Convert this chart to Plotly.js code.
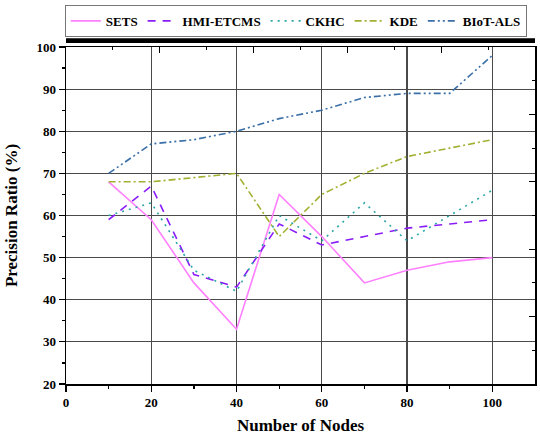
<!DOCTYPE html>
<html><head><meta charset="utf-8">
<script src="https://cdn.plot.ly/plotly-3.0.1.min.js"></script>
<style>html,body{margin:0;padding:0;background:#fff;}#chart{width:540px;height:437px;}</style>
</head><body><div id="chart"></div>
<script>
const nodes = [10, 20, 30, 40, 50, 60, 70, 80, 90, 100];
const sets = [68, 59, 44, 33, 65, 55, 44, 47, 49, 50];
const hmi = [59, 67, 46, 43, 58, 53, 55, 57, 58, 59];
const ckhc = [60, 63, 47, 42, 60, 54, 63, 54, 60, 66];
const kde = [68, 68, 69, 70, 55, 65, 70, 74, 76, 78];
const biot = [70, 77, 78, 80, 83, 85, 88, 89, 89, 98];
const names = ["SETS", "HMI-ETCMS", "CKHC", "KDE", "BIoT-ALS"];

const serif = "Liberation Serif";
const mk = (y, name, color, dash) => ({
  x: nodes, y: y, name: name, type: "scatter", mode: "lines",
  line: {color: color, width: 1.6, dash: dash}
});
const data = [
  mk(sets, names[0], "#ff80ff", "solid"),
  mk(hmi, names[1], "#8a1cf7", "8px,7px"),
  mk(ckhc, names[2], "#2aa5a5", "2px,5px"),
  mk(kde, names[3], "#a2b032", "7px,3px,2px,3px"),
  mk(biot, names[4], "#3a6fa8", "7px,3px,2px,3px,2px,3px")
];
data.push({x: [0], y: [0], xaxis: "x2", yaxis: "y2", mode: "markers", marker: {opacity: 0}, showlegend: false, hoverinfo: "skip"});

const layout = {
  width: 540, height: 437,
  margin: {l: 66, r: 5, t: 38, b: 53},
  paper_bgcolor: "#fff", plot_bgcolor: "#fff",
  font: {color: "#000"},
  showlegend: true,
  legend: {
    orientation: "h", x: 0.49, xanchor: "center", y: 1.03, yanchor: "bottom",
    bgcolor: "#fff", bordercolor: "#777", borderwidth: 1,
    font: {family: serif, size: 13, color: "#000", weight: "bold"},
    tracegroupgap: 0
  },
  xaxis: {
    range: [0, 110], tickvals: [0, 20, 40, 60, 80, 100],
    ticks: "outside", ticklen: 6, tickwidth: 1.2, tickcolor: "#000",
    minor: {tickvals: [10, 30, 50, 70, 90], ticks: "outside", ticklen: 3, tickcolor: "#000", showgrid: false},
    showline: true, linecolor: "#000", linewidth: 1.5, mirror: true,
    showgrid: true, gridcolor: "#4a4a4a", gridwidth: 1.2,
    zeroline: false,
    tickfont: {family: serif, size: 13, color: "#000", weight: "bold"},
    title: {text: "Number of Nodes", font: {family: serif, size: 17, color: "#000", weight: "bold"}, standoff: 10}
  },
  yaxis: {
    range: [20, 100], dtick: 10, tick0: 20,
    ticks: "outside", ticklen: 6, tickwidth: 1.2, tickcolor: "#000",
    minor: {dtick: 5, ticks: "outside", ticklen: 3, tickcolor: "#000", showgrid: false},
    showline: true, linecolor: "#000", linewidth: 1.5, mirror: true,
    showgrid: true, gridcolor: "#4a4a4a", gridwidth: 1.2,
    zeroline: false,
    tickfont: {family: serif, size: 13, color: "#000", weight: "bold"},
    title: {text: "Precision Ratio (%)", font: {family: serif, size: 17, color: "#000", weight: "bold"}, standoff: 14}
  },
  xaxis2: {
    overlaying: "x", side: "top", range: [0, 10], dtick: 2, tick0: 0,
    ticks: "inside", ticklen: 6, tickcolor: "#000", showticklabels: false,
    minor: {dtick: 1, ticks: "inside", ticklen: 3, tickcolor: "#000", showgrid: false},
    showgrid: false, zeroline: false, showline: false
  },
  yaxis2: {
    overlaying: "y", side: "right", range: [0, 10], dtick: 2, tick0: 0,
    ticks: "inside", ticklen: 6, tickcolor: "#000", showticklabels: false,
    minor: {dtick: 1, ticks: "inside", ticklen: 3, tickcolor: "#000", showgrid: false},
    showgrid: false, zeroline: false, showline: false
  },
  shapes: [
    {type: "rect", xref: "paper", yref: "paper", x0: 0, x1: 1, y0: 1.0116, y1: 1.026,
     fillcolor: "#000", line: {width: 0}, layer: "below"}
  ]
};
Plotly.newPlot("chart", data, layout, {displayModeBar: false, staticPlot: true});
</script></body></html>
